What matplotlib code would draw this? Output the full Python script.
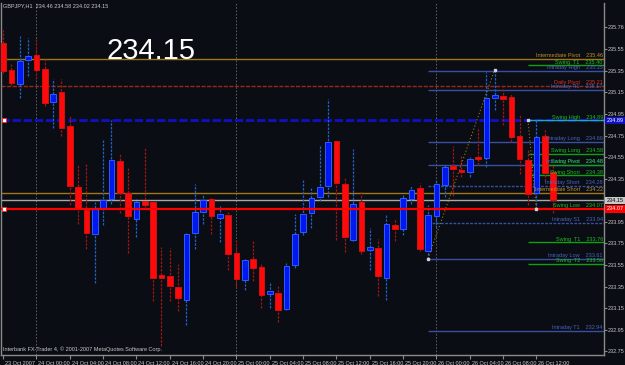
import matplotlib
matplotlib.use('Agg')
import matplotlib.pyplot as plt
import matplotlib.transforms as mtransforms
import numpy as np

# GBPJPY H1, 23 Oct 20:00 .. 26 Oct 14:00
opens = [235.61, 235.36, 235.23, 235.45, 235.50, 235.37, 235.06, 235.15, 234.84, 234.27,
         234.06, 233.84, 234.08, 234.16, 234.51, 234.22, 233.98, 234.14, 234.13, 233.45,
         233.45, 233.35, 233.23, 233.85, 234.04, 234.16, 233.99, 234.01, 233.66, 233.41,
         233.61, 233.53, 233.28, 233.29, 233.14, 233.55, 233.86, 234.03, 234.18, 234.28,
         234.70, 234.30, 233.78, 234.13, 233.69, 233.71, 233.43, 233.92, 233.88, 234.16,
         234.26, 233.68, 234.00, 234.29, 234.45, 234.43, 234.41, 234.55, 234.54, 235.10,
         235.12, 235.11, 234.75, 234.52, 234.22, 234.75, 234.41]
highs = [235.73, 235.41, 235.67, 235.65, 235.65, 235.46, 235.27, 235.27, 234.93, 234.48,
         234.49, 234.13, 234.72, 234.89, 234.58, 234.46, 234.16, 234.64, 234.13, 233.72,
         233.71, 233.56, 233.85, 234.30, 234.20, 234.18, 234.10, 234.04, 233.78, 233.61,
         233.77, 233.56, 233.38, 233.36, 233.57, 234.02, 234.35, 234.26, 234.65, 235.09,
         234.70, 234.36, 234.63, 234.24, 233.89, 233.79, 234.01, 233.98, 234.21, 234.28,
         234.31, 234.11, 234.34, 234.49, 234.65, 234.56, 234.55, 234.81, 235.34, 235.36,
         235.20, 235.14, 234.94, 234.63, 234.89, 234.81, 234.49]
lows = [235.33, 235.22, 235.10, 235.30, 235.27, 235.02, 234.82, 234.75, 234.11, 233.93,
        233.70, 233.38, 233.92, 234.12, 234.03, 233.66, 233.81, 234.09, 233.22, 232.80,
        233.22, 233.12, 232.99, 233.70, 233.93, 233.84, 233.76, 233.50, 233.35, 233.32,
        233.40, 233.15, 233.15, 233.02, 233.13, 233.52, 233.83, 233.89, 234.14, 234.18,
        233.78, 233.67, 233.77, 233.65, 233.50, 233.26, 233.23, 233.77, 233.83, 234.12,
        233.68, 233.61, 233.89, 234.18, 234.19, 234.37, 234.37, 234.48, 234.46, 234.99,
        234.85, 234.69, 234.39, 234.11, 234.07, 234.33, 234.03]
closes = [235.35, 235.24, 235.44, 235.49, 235.36, 235.05, 235.14, 234.82, 234.28, 234.08,
          233.85, 234.08, 234.15, 234.52, 234.22, 234.00, 234.13, 234.11, 233.43, 233.43,
          233.36, 233.24, 233.84, 234.04, 234.15, 234.00, 234.02, 233.65, 233.42, 233.60,
          233.52, 233.27, 233.30, 233.13, 233.54, 233.84, 234.02, 234.17, 234.27, 234.69,
          234.31, 233.81, 234.12, 233.68, 233.71, 233.45, 233.93, 233.88, 234.17, 234.25,
          233.70, 234.01, 234.30, 234.46, 234.44, 234.41, 234.53, 234.53, 235.10, 235.13,
          235.09, 234.74, 234.53, 234.21, 234.74, 234.40, 234.15]

time_labels = ['23 Oct 2007', '24 Oct 00:00', '24 Oct 04:00', '24 Oct 08:00', '24 Oct 12:00',
               '24 Oct 16:00', '24 Oct 20:00', '25 Oct 00:00', '25 Oct 04:00', '25 Oct 08:00',
               '25 Oct 12:00', '25 Oct 16:00', '25 Oct 20:00', '26 Oct 00:00', '26 Oct 04:00',
               '26 Oct 08:00', '26 Oct 12:00']
day_starts = [5, 29, 53]

price_ticks = [235.76, 235.55, 235.35, 235.15, 234.95, 234.75, 234.55, 234.35, 234.15,
               233.95, 233.75, 233.55, 233.35, 233.15, 232.95, 232.75]

level_names = ['Intermediate Pivot', 'Swing  T1', 'Intraday High', 'Daily Pivot', 'Intraday R1',
               'Swing High', 'Intraday Long', 'Swing Long', 'Intraday Pivot', 'Swing Pivot',
               'Swing Short', 'Intraday Short', 'Intermediate Short', 'Swing Low', 'Intraday S1',
               'Swing  T1', 'Intraday Low', 'Swing  T2', 'Intraday T1']
level_values = [235.46, 235.40, 235.35, 235.21, 235.17, 234.89, 234.69, 234.58, 234.48, 234.48,
                234.38, 234.28, 234.22, 234.07, 233.94, 233.76, 233.61, 233.56, 232.94]

hline_values = [234.89, 234.07]   # user lines (blue, red)
bid = 234.15
zz1_x, zz1_y = [52, 60], [233.61, 235.36]
zz2_x, zz2_y = [64, 65], [234.89, 234.07]

bg = '#0a0d13'
fig = plt.figure(figsize=(6.25, 3.65), dpi=100, facecolor=bg)
ax = fig.add_axes([1 / 625, 10 / 365, 603 / 625, 352 / 365], facecolor=bg)
ax.set_xlim(0.76, 73.12)
ax.set_ylim(232.716, 235.979)

for s in ['left', 'right', 'bottom']:
    ax.spines[s].set_color('#8a8a8a')
    ax.spines[s].set_linewidth(1)
ax.spines['top'].set_visible(False)

# day separators
for d in day_starts:
    ax.axvline(d, color='#6a6a6a', lw=0.6, ls=(0, (2, 2)), zorder=1)

x0, x1 = ax.get_xlim()
# full width lines
ax.hlines(level_values[0], x0, x1, color='#a07818', lw=1, zorder=2)
ax.hlines(level_values[12], x0, x1, color='#a07818', lw=1, zorder=2)
ax.hlines(level_values[3], x0, x1, color='#9a2818', lw=1, ls=(0, (3, 1)), zorder=2)
ax.hlines(hline_values[0], x0, x1, color='#1010c8', lw=2, ls=(0, (3, 1)), zorder=2)
ax.hlines(bid, x0, x1, color='#a8a8a8', lw=1, zorder=2)
ax.hlines(hline_values[1], x0, x1, color='#ff0000', lw=1.6, zorder=6)

# indicator levels
for name, v in zip(level_names, level_values):
    if name.startswith('Intraday'):
        ls = (0, (2, 1)) if name in ('Intraday Short', 'Intraday S1') else '-'
        ax.hlines(v, 52, x1, color='#3a4fa0', lw=1, ls=ls, zorder=2)
    elif name.startswith('Swing'):
        col = '#22aaaa' if name == 'Swing High' else '#10a010'
        if name in ('Swing Low',):
            continue
        ax.hlines(v, 64, x1, color=col, lw=1, zorder=2)

x = np.arange(1, len(opens) + 1)
o, h, l, c = map(np.array, (opens, highs, lows, closes))
up = c >= o
ax.vlines(x[up], l[up], h[up], color='#2060c8', lw=0.9, ls=(0, (2, 1)), zorder=3)
ax.vlines(x[~up], l[~up], h[~up], color='#a01414', lw=0.9, ls=(0, (2, 1)), zorder=3)
body_bottom = np.minimum(o, c)
body_h = np.maximum(np.abs(c - o), 0.025)
ax.bar(x[up], body_h[up], bottom=body_bottom[up], width=0.68, color='#0018f0',
       edgecolor='#2f5cff', lw=0.7, zorder=4)
ax.bar(x[~up], body_h[~up], bottom=body_bottom[~up], width=0.68, color='#ff0a0a',
       edgecolor='#d01010', lw=0.7, zorder=4)

# zigzag
ax.plot(zz1_x, zz1_y, color='#a07818', lw=0.8, ls=(0, (1, 2)), zorder=5)
ax.plot(zz2_x, zz2_y, color='#a07818', lw=0.8, ls=(0, (1, 2)), zorder=5)
ax.plot(zz1_x + zz2_x, zz1_y + zz2_y, 's', ms=2, mfc='#d0d0d0', mec='#d0d0d0', zorder=7)
ax.plot([x0 + 0.3, x0 + 0.3], hline_values, 's', ms=2.5, mfc='white', mec='#ff2020',
        mew=0.6, zorder=7)

# labels of levels
lab_tr = mtransforms.blended_transform_factory(ax.transAxes, ax.transData)
lab_font = 'Liberation Sans'
for name, v in zip(level_names, level_values):
    if name.startswith('Intraday'):
        col = '#4a64c0'
    elif name.startswith('Swing'):
        col = '#18c018'
    elif name.startswith('Intermediate'):
        col = '#c09020'
    else:
        col = '#e03020'
    ax.text(0.998, v + 0.008, f'{name}    {v:.2f}', transform=lab_tr, ha='right', va='bottom',
            fontsize=4, color=col, family=lab_font, zorder=8)

# price axis
ax.yaxis.tick_right()
ax.set_yticks(price_ticks)
ax.set_yticklabels(['' if t == bid else f'{t:.2f}' for t in price_ticks])
ax.tick_params(axis='y', colors='#8a8a8a', labelcolor='#c8c8c8', labelsize=4, length=2, pad=1)
for t in ax.get_yticklabels():
    t.set_family(lab_font)

box_vals = [hline_values[0], bid, hline_values[1]]
box_fc = ['#1010c8', '#c8c8c8', '#ff0000']
box_tc = ['white', 'black', 'white']
for v, fc, tc in zip(box_vals, box_fc, box_tc):
    ax.text(1.004, v, f'{v:.2f}', transform=lab_tr, ha='left', va='center', fontsize=4,
            color=tc, family=lab_font, zorder=9, clip_on=False,
            bbox=dict(boxstyle='square,pad=0.2', fc=fc, ec='none'))

# time axis
ax.set_xticks(np.arange(1, 66, 4))
ax.set_xticklabels(time_labels)
ax.tick_params(axis='x', colors='#8a8a8a', labelcolor='#c8c8c8', labelsize=4, length=3, pad=1)
off = mtransforms.ScaledTranslation(1.5 / 72, 0, fig.dpi_scale_trans)
for t in ax.get_xticklabels():
    t.set_ha('left')
    t.set_family(lab_font)
    t.set_transform(t.get_transform() + off)

# texts
fig.text(3 / 625, 1 - 6 / 365, 'GBPJPY,H1  234.46 234.58 234.02 234.15', fontsize=4,
         color='#c8c8c8', family=lab_font, va='center')
fig.text(3 / 625, 1 - 352 / 365, 'Interbank FX-Trader 4, \u00a9 2001-2007 MetaQuotes Software Corp.',
         fontsize=4, color='#c8c8c8', family=lab_font, va='bottom')
fig.text(106 / 625, 1 - 59 / 365, '234.15', fontsize=21, color='white', family=lab_font,
         va='baseline')

fig.savefig('out.png', dpi=100, facecolor=bg)
